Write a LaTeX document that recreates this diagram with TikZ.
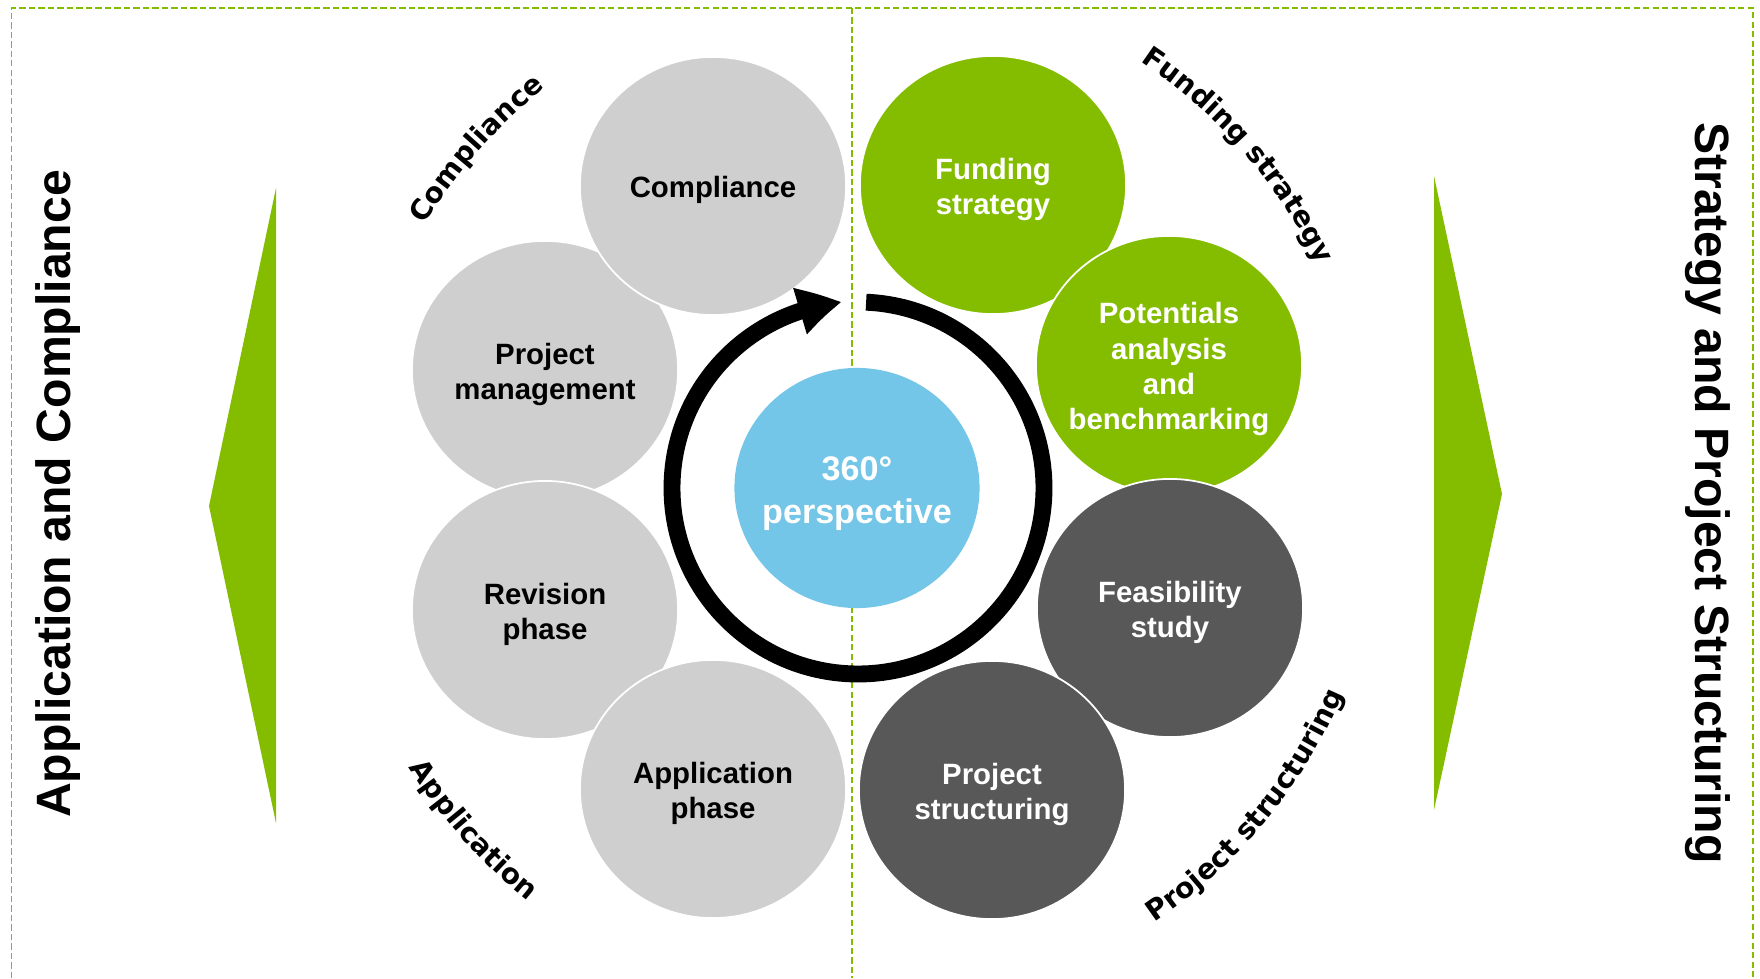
\documentclass[tikz,border=0pt]{standalone}
\usepackage{fontspec}
\setmainfont{Liberation Sans}
\newfontfamily\arcfamily{DejaVu Sans}
\usetikzlibrary{arrows.meta,bending,shapes.geometric,decorations.text}

\definecolor{leafgreen}{HTML}{84BD00}
\definecolor{palegrey}{HTML}{D0CFD0}
\definecolor{slategrey}{HTML}{585858}
\definecolor{skyblue}{HTML}{73C6E7}

\newcommand\arcfont{\arcfamily\bfseries\fontsize{8}{9.6}\selectfont}

\tikzset{
  bubble/.style={ellipse,draw=white,line width=0.5pt,fill=#1,
    minimum width=2.66cm,minimum height=2.58cm,inner sep=0pt},
  bubbletext/.style={align=center,text=#1,yshift=-0.04cm,
    font=\fontsize{8.35}{9.96}\selectfont\bfseries},
  frame/.style={leafgreen,line width=0.45pt,dash pattern=on 1.8pt off 0.9pt},
  wedge/.style={fill=leafgreen},
  sidetitle/.style={font=\fontsize{13.7}{16}\selectfont\bfseries},
  arclabel/.style={decorate,decoration={text along path,text align=center,
    text={|\arcfont|#1}}},
  ring/.style={line width=4.8pt,-{Triangle[length=12.2pt,width=12.8pt,bend]}}
}

\begin{document}
\begin{tikzpicture}[x=0.01cm,y=0.01cm]
\useasboundingbox (0,0) rectangle (1760,978);

\draw[frame] (11.5,0) -- (11.5,970) -- (1753,970) -- (1753,0);
\draw[frame] (852,970) -- (852,0);

\fill[wedge] (276,790) -- (209,472) -- (276,155) -- cycle;
\fill[wedge] (1434,802) -- (1502,484) -- (1434,168) -- cycle;

\node[sidetitle,rotate=90] (ltitle) at (58,484) {Application and Compliance};
\node[sidetitle,rotate=-90] (rtitle) at (1708,485) {Strategy and Project Structuring};

\node[bubble=palegrey] (pm) at (545,608) {};
\node[bubbletext=black] at (pm) {Project\\management};
\node[bubble=palegrey] (comp) at (713,792) {};
\node[bubbletext=black] at (comp) {Compliance};
\node[bubble=palegrey] (rev) at (545,368) {};
\node[bubbletext=black] at (rev) {Revision\\phase};
\node[bubble=palegrey] (app) at (713,189) {};
\node[bubbletext=black] at (app) {Application\\phase};

\node[bubble=leafgreen] (fund) at (993,793) {};
\node[bubbletext=white] at (fund) {Funding\\strategy};
\node[bubble=leafgreen] (pot) at (1169,613) {};
\node[bubbletext=white] at (pot) {Potentials\\analysis\\and\\benchmarking};
\node[bubble=slategrey] (feas) at (1170,370) {};
\node[bubbletext=white] at (feas) {Feasibility\\study};
\node[bubble=slategrey] (pstr) at (992,188) {};
\node[bubbletext=white] at (pstr) {Project\\structuring};

\node[ellipse,fill=skyblue,minimum width=2.45cm,minimum height=2.40cm] (hub) at (857,490) {};
\node[align=center,text=white,yshift=-0.055cm,font=\fontsize{9.7}{12.2}\selectfont\bfseries] at (hub) {360°\\perspective};

\coordinate (ringc) at (858,490);
\draw[ring] (ringc) ++(87.5:186) arc[start angle=87.5,end angle=-265,radius=186];

\coordinate (arcc) at (858,492);
\path[arclabel=Compliance] (arcc) ++(168.5:506) arc[start angle=168.5,end angle=108.5,radius=506];
\path[arclabel=Funding strategy] (arcc) ++(71:510) arc[start angle=71,end angle=11,radius=510];
\path[arclabel=Project structuring] (arcc) ++(-69.5:528) arc[start angle=-69.5,end angle=-9.5,radius=528];
\path[arclabel=Application] (arcc) ++(191.8:530) arc[start angle=191.8,end angle=251.8,radius=530];
\end{tikzpicture}
\end{document}
